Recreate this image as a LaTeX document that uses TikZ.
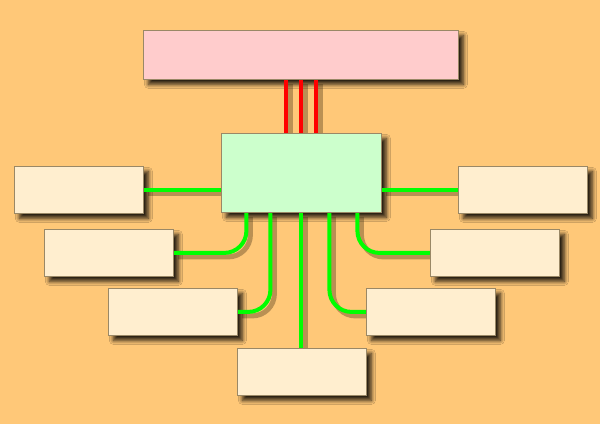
\documentclass[tikz,border=0pt]{standalone}
\usetikzlibrary{shadows.blur}
\definecolor{bgc}{HTML}{FFC878}
\definecolor{topc}{HTML}{FFCCCC}
\definecolor{midc}{HTML}{CCFFCC}
\definecolor{boxc}{HTML}{FFEECF}
\definecolor{edgec}{HTML}{9A8866}
\definecolor{shc}{HTML}{3A2A10}
\definecolor{grn}{HTML}{00FF00}
\definecolor{rd}{HTML}{FF0000}
\begin{document}
\begin{tikzpicture}[x=1pt,y=-1pt,
  box/.style={draw=edgec,line width=0.8pt,anchor=north west,inner sep=0pt,
    blur shadow={shadow xshift=5pt,shadow yshift=-5pt,shadow blur radius=4pt,shadow opacity=85,shadow blur steps=10}},
  leaf/.style={box,fill=boxc,minimum width=129pt,minimum height=47pt},
  glink/.style={grn,line width=4pt,rounded corners=22pt},
  rlink/.style={rd,line width=4pt},
  lshadow/.style={shc,line width=5pt,opacity=0.35,rounded corners=22pt},
  shpass/.style={transform canvas={xshift=4pt,yshift=-4pt}},
  plainpass/.style={}]
\fill[bgc] (0,0) rectangle (600,424);
\useasboundingbox (0,0) rectangle (600,424);
\path
  (143,30) node[box,fill=topc,minimum width=315pt,minimum height=49pt] (top) {}
  (221,133) node[box,fill=midc,minimum width=160pt,minimum height=79pt] (c) {}
  (14,166) node[leaf] (l1) {}
  (44,229) node[leaf] (l2) {}
  (108,288) node[leaf] (l3) {}
  (237,348) node[leaf] (b) {}
  (458,166) node[leaf] (r1) {}
  (430,229) node[leaf] (r2) {}
  (366,288) node[leaf] (r3) {};
\foreach \st/\sh in {lshadow/shpass, glink/plainpass}{
  \begin{scope}[\sh]
  \draw[\st] (l1.east) -- (l1.east -| c.west);
  \draw[\st] (r1.west) -- (r1.west -| c.east);
  \draw[\st] ([xshift=-55pt]c.south) |- (l2.east);
  \draw[\st] ([xshift=-31pt]c.south) |- (l3.east);
  \draw[\st] (c.south) -- (b.north -| c.south);
  \draw[\st] ([xshift=28pt]c.south) |- (r3.west);
  \draw[\st] ([xshift=56pt]c.south) |- (r2.west);
  \end{scope}}
\foreach \st/\sh in {lshadow/shpass, rlink/plainpass}{
  \begin{scope}[\sh]
  \draw[\st] ([xshift=-15pt]c.north) -- ([xshift=-15pt]c.north |- top.south);
  \draw[\st] (c.north) -- (c.north |- top.south);
  \draw[\st] ([xshift=15pt]c.north) -- ([xshift=15pt]c.north |- top.south);
  \end{scope}}
\foreach \n/\f in {top/topc,c/midc,l1/boxc,l2/boxc,l3/boxc,b/boxc,r1/boxc,r2/boxc,r3/boxc}
  \draw[edgec,line width=0.8pt,fill=\f] (\n.north west) rectangle (\n.south east);
\end{tikzpicture}
\end{document}
